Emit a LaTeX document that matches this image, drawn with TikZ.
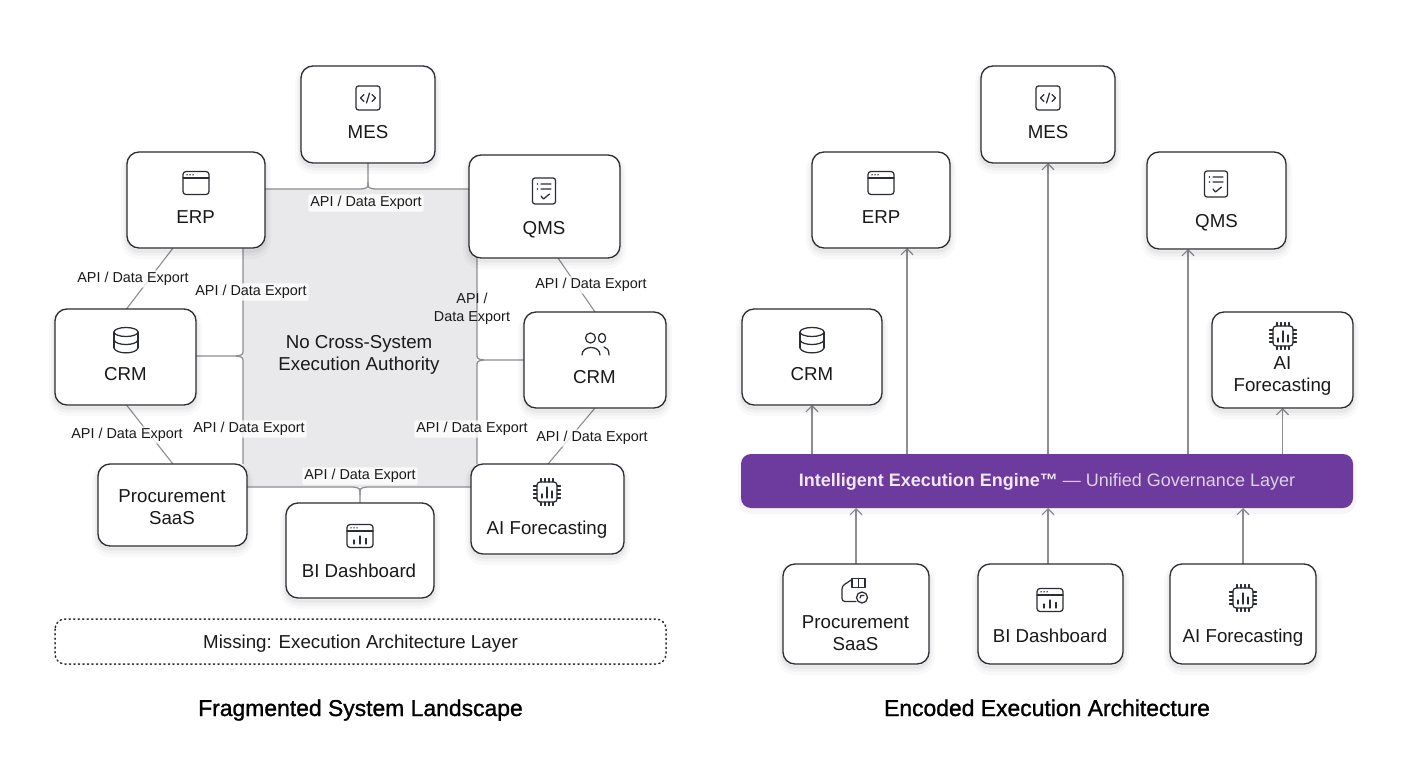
\documentclass[tikz,border=0pt]{standalone}
\usepackage{fontspec}
\setmainfont{Liberation Sans}
\newfontfamily\titlefont[FakeBold=1.2]{Liberation Sans}
\usetikzlibrary{arrows.meta,calc,backgrounds}
\definecolor{inkc}{HTML}{2A2D33}
\definecolor{linec}{HTML}{8C8E91}
\definecolor{grayfill}{HTML}{E9E9EB}
\definecolor{barc}{HTML}{6D3A9E}
\definecolor{bartxt}{HTML}{F1E8F7}
\definecolor{bartxtb}{HTML}{DCD3E6}
\tikzset{
  sysbox/.style={draw=inkc,line width=1.3pt,fill=white,rounded corners=12pt,inner sep=0pt,outer sep=0pt,
    preaction={draw=black,draw opacity=.025,line width=12pt,transform canvas={yshift=-5pt}},
    preaction={draw=black,draw opacity=.03,line width=7pt,transform canvas={yshift=-4pt}},
    preaction={draw=black,draw opacity=.04,line width=3pt,transform canvas={yshift=-3pt}}},
  lbl/.style={text=black!90,font=\fontsize{18.7}{22}\selectfont,align=center,inner sep=0pt,anchor=base},
  mlbl/.style={text=black!90,font=\fontsize{18.7}{22}\selectfont,align=center,inner sep=0pt,anchor=center},
  apilbl/.style={text=black!90,font=\fontsize{14.4}{18}\selectfont,align=center,inner sep=2pt,fill=white,fill opacity=.8,text opacity=1,rounded corners=2pt},
  apiplain/.style={text=black!90,font=\fontsize{14.4}{18}\selectfont,align=center,inner sep=2pt},
  conn/.style={draw=linec,line width=1.3pt},
  arr/.style={draw=linec,line width=1.3pt,-{Straight Barb[length=6pt,width=12pt,line width=1.1pt]}},
  icon/.style={draw=inkc,line width=1.25pt,line cap=round,line join=round},
  ttl/.style={font=\fontsize{22.9}{26}\titlefont,text=black,inner sep=0pt,anchor=base}
}
\newcommand{\bx}[5]{\pgfmathsetlengthmacro{\bw}{#4-#2}\pgfmathsetlengthmacro{\bh}{#5-#3}%
  \node[sysbox,minimum width=\bw,minimum height=\bh] (#1) at ({(#2+#4)/2},{(#3+#5)/2}) {};}
\newcommand{\icomes}[2]{\begin{scope}[shift={(#1,#2)},icon]
  \draw[rounded corners=2.5pt] (-12,-12) rectangle (12,12);
  \draw (-4,-3.5)--(-7.5,0)--(-4,3.5) (4,-3.5)--(7.5,0)--(4,3.5) (1.5,-5)--(-1.5,5);\end{scope}}
\newcommand{\winbase}{\draw[rounded corners=3pt] (-13,-11.5) rectangle (13,11.5);
  \draw (-13,-5)--(13,-5);
  \fill[inkc] (-9,-8.2) circle (.8) (-6,-8.2) circle (.8) (-3,-8.2) circle (.8);}
\newcommand{\icowin}[2]{\begin{scope}[shift={(#1,#2)},icon]\winbase\end{scope}}
\newcommand{\icobi}[2]{\begin{scope}[shift={(#1,#2)},icon]\winbase
  \draw (-6,8)--(-6,4) (0,8)--(0,0) (6,8)--(6,2.5);\end{scope}}
\newcommand{\icodoc}[2]{\begin{scope}[shift={(#1,#2)},icon]
  \draw[rounded corners=2.5pt] (-11.5,-13) rectangle (11.5,13);
  \fill[inkc] (-6.5,-7) circle (.8) (-6.5,-2) circle (.8);
  \draw (-3,-7)--(7,-7) (-3,-2)--(7,-2) (-3,5)--(-.5,8)--(5.5,3);\end{scope}}
\newcommand{\icodb}[2]{\begin{scope}[shift={(#1,#2)},icon]
  \draw (0,-8) ellipse (12 and 4.5);
  \draw (-12,-8)--(-12,8) (12,-8)--(12,8);
  \draw (-12,0) .. controls (-10,6) and (10,6) .. (12,0);
  \draw (-12,8) .. controls (-10,14.5) and (10,14.5) .. (12,8);\end{scope}}
\newcommand{\icousers}[2]{\begin{scope}[shift={(#1,#2)},icon]
  \draw (-4.5,-6) circle (5);
  \draw (7,-6) ellipse (3.6 and 4.6);
  \draw (-13,11) .. controls (-13,1) and (5,1) .. (5,11);
  \draw (9,3) .. controls (12,3.5) and (14,6) .. (14,11);\end{scope}}
\newcommand{\icochip}[2]{\begin{scope}[shift={(#1,#2)},icon]
  \draw[rounded corners=3pt] (-10,-10) rectangle (10,10);
  \foreach \p in {-6,-2,2,6}{\draw (\p,-13.5)--(\p,-10) (\p,10)--(\p,13.5) (-13.5,\p)--(-10,\p) (10,\p)--(13.5,\p);}
  \draw (-5,6)--(-5,2) (0,6)--(0,-5) (5,6)--(5,-1);\end{scope}}
\newcommand{\icoproc}[2]{\begin{scope}[shift={(#1,#2)},icon]
  \draw (-3,-11.5) rectangle (10,-2.5);
  \draw (3.5,-11.5)--(3.5,-2.5);
  \draw[rounded corners=3pt] (-3,-10.5)--(-13,-4)--(-13,11.5)--(1,11.5);
  \draw (7,7.5) circle (5.5);
  \draw (5,8)--(6,5.5)--(9,5.5);\end{scope}}
\begin{document}
\begin{tikzpicture}[x=1pt,y=-1pt]
\useasboundingbox (0,0) rectangle (1408,768);
% ---------- left boxes
\bx{lmes}{301}{66}{435}{163}
\bx{lerp}{127}{152}{265}{248}
\bx{lqms}{469}{155}{620}{258}
\bx{lcrm}{55}{309}{196}{405}
\bx{lcrmr}{524}{312}{666}{408}
\bx{lproc}{98}{464}{247}{546}
\bx{lbi}{286}{503}{434}{598}
\bx{lai}{471}{464}{624}{554}
% ---------- right boxes
\bx{rmes}{981}{66}{1115}{163}
\bx{rerp}{812}{152}{950}{248}
\bx{rqms}{1147}{152}{1286}{249}
\bx{rcrm}{742}{309}{882}{405}
\bx{rai}{1212}{312}{1353}{408}
\bx{rproc}{783}{564}{929}{664}
\bx{rbi}{978}{564}{1123}{664}
\bx{rai2}{1170}{564}{1316}{664}
\node[fill=barc,rounded corners=10pt,minimum width=612pt,minimum height=54pt,inner sep=0pt,outer sep=0pt,
  preaction={draw=barc,draw opacity=.05,line width=6pt,transform canvas={yshift=-3pt}}] (bar) at (1047,481) {};
\node[font=\fontsize{18}{22}\selectfont,inner sep=0pt] (bartext) at (1047,482) {\textcolor{bartxt}{\textbf{Intelligent Execution Engine™}} \textcolor{bartxtb}{— Unified Governance Layer}};
% ---------- connectors, behind the boxes
\begin{pgfonlayer}{background}
\fill[white] (0,0) rectangle (1408,768);
\fill[grayfill] (243,189) rectangle (477,487);
\coordinate (topj) at (368,189);
\coordinate (botj) at (360,487);
\coordinate (leftx) at (243,356);
\coordinate (rightx) at (477,360);
% top bracket
\draw[conn] (lmes.south -| topj) -- ($(topj)+(0,-7)$) .. controls ($(topj)+(0,-1)$) .. ($(topj)+(-7,0)$) -- (lerp.east |- topj);
\draw[conn] ($(topj)+(0,-7)$) .. controls ($(topj)+(0,-1)$) .. ($(topj)+(7,0)$) -- (lqms.west |- topj);
% bottom bracket
\draw[conn] (lbi.north -| botj) -- ($(botj)+(0,8)$) .. controls ($(botj)+(0,1)$) .. ($(botj)+(-7,0)$) -- (lproc.east |- botj);
\draw[conn] ($(botj)+(0,8)$) .. controls ($(botj)+(0,1)$) .. ($(botj)+(7,0)$) -- (lai.west |- botj);
% left bracket
\draw[conn] (lerp.south -| leftx) -- ($(leftx)+(0,-7)$) .. controls ($(leftx)+(0,-1)$) .. ($(leftx)+(-7,0)$) -- (lcrm.east |- leftx);
\draw[conn] ($(leftx)+(-7,0)$) .. controls ($(leftx)+(0,1)$) .. ($(leftx)+(0,7)$) -- (lproc.north -| leftx);
% right bracket
\draw[conn] (lqms.south -| rightx) -- ($(rightx)+(0,-7)$) .. controls ($(rightx)+(0,-1)$) .. ($(rightx)+(7,0)$) -- (lcrmr.west |- rightx);
\draw[conn] ($(rightx)+(7,0)$) .. controls ($(rightx)+(0,1)$) .. ($(rightx)+(0,7)$) -- (lai.north -| rightx);
% diagonals
\draw[conn,line width=1.1pt] ([xshift=-23pt]lerp.south) -- ([xshift=1pt]lcrm.north);
\draw[conn,line width=1.1pt] ([xshift=13.5pt]lqms.south) -- ([xshift=0pt]lcrmr.north);
\draw[conn,line width=1.1pt] ([xshift=1pt]lcrm.south) -- ([xshift=.5pt]lproc.north);
\draw[conn,line width=1.1pt] ([xshift=0pt]lcrmr.south) -- ([xshift=.5pt]lai.north);
% arrows right
\draw[arr] (bar.north -| rcrm) -- (rcrm.south);
\draw[arr] ([xshift=-140pt]bar.north) -- ([xshift=26pt]rerp.south);
\draw[arr] ([xshift=1pt]bar.north) -- (rmes.south);
\draw[arr] ([xshift=141pt]bar.north) -- ([xshift=-28.5pt]rqms.south);
\draw[arr] (bar.north -| rai) -- (rai.south);
\draw[arr] (rproc.north) -- (bar.south -| rproc);
\draw[arr] ([xshift=-2.5pt]rbi.north) -- ([xshift=1pt]bar.south);
\draw[arr] (rai2.north) -- (bar.south -| rai2);
\end{pgfonlayer}
% ---------- dotted box
\draw[draw=inkc,line width=1.5pt,dash pattern=on 1.3pt off 3.2pt,line cap=round,rounded corners=10pt] (55,619) rectangle (666,664);
\node[lbl] (missing) at (360.5,648.5) {Missing: Execution Architecture Layer};
% ---------- api labels
\node[apilbl] (a1) at (366,203) {API / Data Export};
\node[apilbl] (a2) at (133,279) {API / Data Export};
\node[apilbl] (a3) at (251,292) {API / Data Export};
\node[apiplain] (a4) at (472,309) {API /\\Data Export};
\node[apilbl] (a5) at (591,285) {API / Data Export};
\node[apilbl] (a6) at (127,435) {API / Data Export};
\node[apilbl] (a7) at (249,429) {API / Data Export};
\node[apilbl] (a8) at (472,429) {API / Data Export};
\node[apilbl] (a9) at (592,438) {API / Data Export};
\node[apilbl] (a10) at (360,476) {API / Data Export};
% ---------- centre text
\node[mlbl] (gap) at (359,355) {No Cross-System\\Execution Authority};
% ---------- box labels left
\node[lbl] (t1) at (368,138.5) {MES};
\node[lbl] (t2) at (195.5,223.5) {ERP};
\node[lbl] (t3) at (544,234.5) {QMS};
\node[lbl] (t4) at (125.5,380.5) {CRM};
\node[lbl] (t5) at (594.5,383.5) {CRM};
\node[mlbl] (t6) at (172,507) {Procurement\\SaaS};
\node[lbl] (t7) at (547,534.5) {AI Forecasting};
\node[lbl] (t8) at (359,577.5) {BI Dashboard};
% ---------- box labels right
\node[lbl] (r1) at (1048,138.5) {MES};
\node[lbl] (r2) at (881,223.5) {ERP};
\node[lbl] (r3) at (1216.5,227.5) {QMS};
\node[lbl] (r4) at (812,380.5) {CRM};
\node[mlbl] (r5) at (1282.5,376.5) {AI\\Forecasting};
\node[mlbl] (r6) at (855.5,633) {Procurement\\SaaS};
\node[lbl] (r7) at (1050,642.5) {BI Dashboard};
\node[lbl] (r8) at (1243,642.5) {AI Forecasting};
% ---------- icons
\icomes{368}{98}\icowin{196}{183}\icodoc{544}{191}\icodb{126}{340}\icousers{595}{344}\icochip{547}{492}\icobi{360}{536}
\icomes{1048}{98}\icowin{881}{183}\icodoc{1216}{184}\icodb{812}{340}\icochip{1283}{336}\icoproc{855}{590}\icobi{1050}{600}\icochip{1243}{598}
% ---------- titles
\node[ttl] (ltitle) at (360.5,716) {Fragmented System Landscape};
\node[ttl] (rtitle) at (1047,716) {Encoded Execution Architecture};
\end{tikzpicture}
\end{document}
